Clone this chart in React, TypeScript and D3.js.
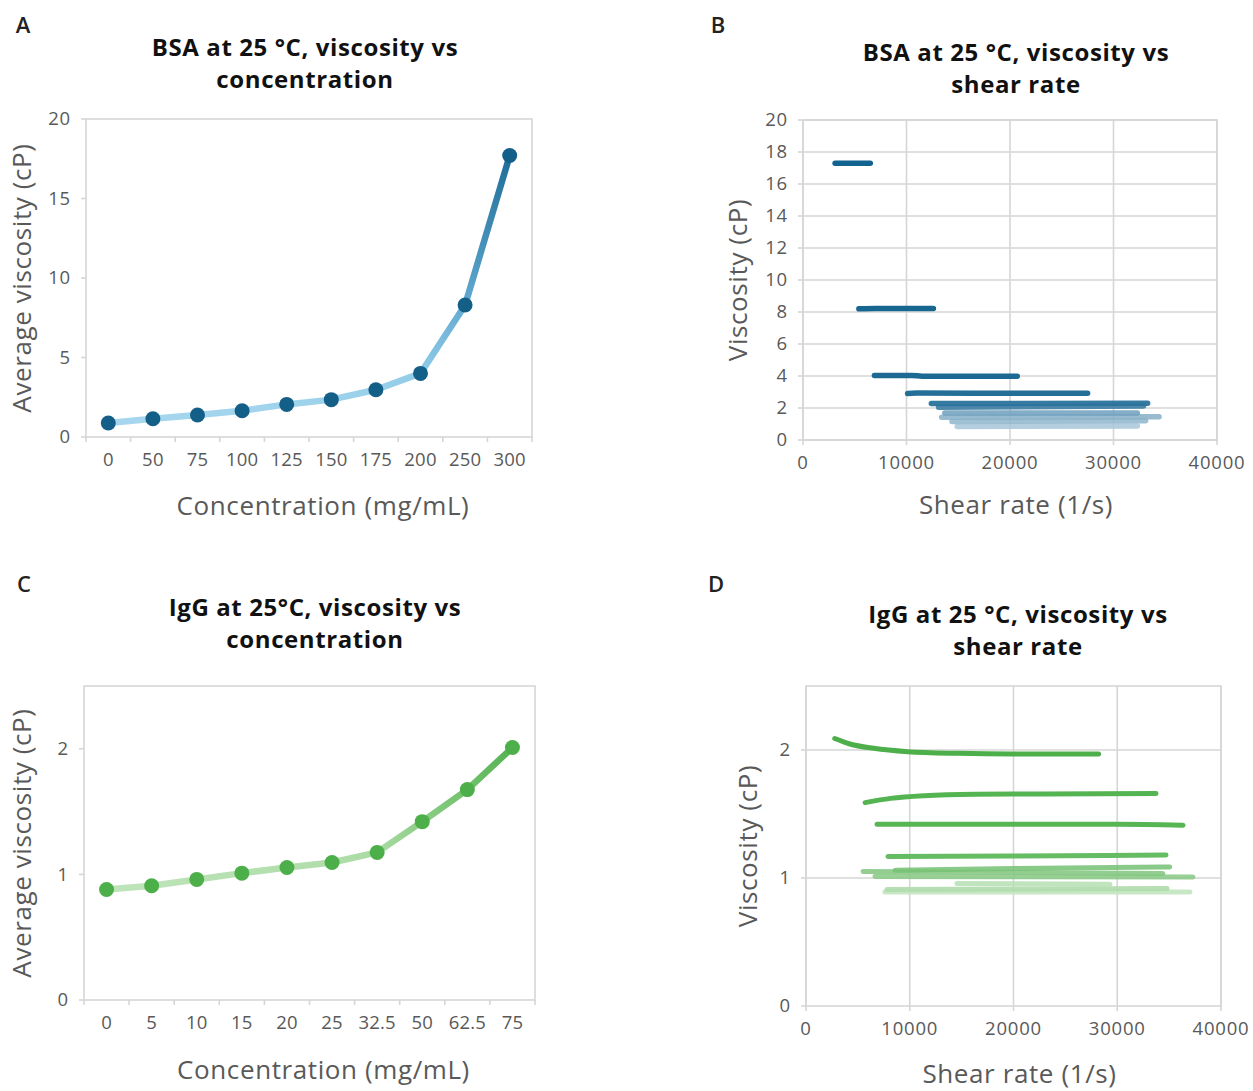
import React from "react";
import * as d3 from "d3";

// ---------- DATA ----------
const bsaConcentrations = ["0", "50", "75", "100", "125", "150", "175", "200", "250", "300"];
const bsaViscosity = [0.88, 1.15, 1.38, 1.65, 2.05, 2.35, 2.97, 4.0, 8.3, 17.7];

const iggConcentrations = ["0", "5", "10", "15", "20", "25", "32.5", "50", "62.5", "75"];
const iggViscosity = [0.88, 0.91, 0.96, 1.01, 1.055, 1.095, 1.175, 1.42, 1.675, 2.01];

// BSA shear curves: [shear rate, viscosity]
const bsaShear300: [number, number][] = [[3100, 17.3], [6500, 17.3]];
const bsaShear250: [number, number][] = [[5400, 8.2], [7000, 8.22], [12600, 8.22]];
const bsaShear200: [number, number][] = [[6900, 4.03], [10500, 4.03], [11500, 3.99], [20700, 3.99]];
const bsaShear175: [number, number][] = [[10100, 2.9], [11000, 2.93], [27500, 2.92]];
const bsaShear150: [number, number][] = [[12400, 2.28], [33300, 2.3]];
const bsaShear125: [number, number][] = [[13100, 2.05], [32900, 2.12]];
const bsaShear100: [number, number][] = [[13700, 1.68], [32300, 1.68]];
const bsaShear75: [number, number][] = [[13400, 1.42], [34400, 1.45]];
const bsaShear50: [number, number][] = [[14400, 1.15], [33100, 1.2]];
const bsaShear0: [number, number][] = [[14900, 0.84], [32300, 0.88]];

const bsaShearSeries = [bsaShear0, bsaShear50, bsaShear75, bsaShear100, bsaShear125, bsaShear150, bsaShear175, bsaShear200, bsaShear250, bsaShear300];
const bsaShearColors = ["#a7c6d9", "#8fb5cc", "#86afc8", "#6f9fbd", "#3c7ca3", "#2a739c", "#246f98", "#1c6993", "#176690", "#136390"];

// IgG shear curves
const iggShear75: [number, number][] = [[2770, 2.09], [4240, 2.047], [6520, 2.013], [9780, 1.987], [14670, 1.974], [19890, 1.969], [28200, 1.969]];
const iggShear62: [number, number][] = [[5700, 1.589], [8150, 1.622], [11410, 1.643], [16300, 1.654], [21190, 1.656], [33740, 1.661]];
const iggShear50: [number, number][] = [[6850, 1.419], [30000, 1.419], [36340, 1.413]];
const iggShear32: [number, number][] = [[7900, 1.168], [20000, 1.172], [34700, 1.18]];
const iggShear25: [number, number][] = [[8600, 1.06], [20000, 1.075], [35050, 1.086]];
const iggShear20: [number, number][] = [[5500, 1.05], [34400, 1.036]];
const iggShear15: [number, number][] = [[6650, 1.012], [37300, 1.008]];
const iggShear10: [number, number][] = [[14550, 0.958], [29300, 0.952]];
const iggShear5: [number, number][] = [[7800, 0.91], [34800, 0.918]];
const iggShear0: [number, number][] = [[7600, 0.89], [37000, 0.89]];

const iggShearSeries = [iggShear0, iggShear5, iggShear10, iggShear15, iggShear20, iggShear25, iggShear32, iggShear50, iggShear62, iggShear75];
const iggShearColors = ["#c2e4bf", "#afdcab", "#b5dfb1", "#86c883", "#80c57c", "#76c173", "#5db85a", "#57b554", "#55b452", "#4caf49"];

const bsaYTicks = [0, 5, 10, 15, 20];
const bsaShearYTicks = [0, 2, 4, 6, 8, 10, 12, 14, 16, 18, 20];
const iggYTicks = [0, 1, 2];
const shearXTicks = [0, 10000, 20000, 30000, 40000];

const FONT = "'Open Sans', Lato, sans-serif";
const TICK_COLOR = "#595959";
const FRAME = "#d6d6d6";
const TITLE_SIZE = 24;
const TITLE_LS = 0.6;
const TICK_SIZE = 18.5;
const TICK_LS = 0.8;
const AXIS_SIZE = 26;
const AXIS_LS = 0.6;

type Box = { left: number; right: number; top: number; bottom: number };

function CategoryPanel(props: {
  id: string;
  letter: string;
  letterPos: [number, number];
  title: string[];
  titleX: number;
  titleY: number;
  box: Box;
  categories: string[];
  values: number[];
  yMax: number;
  yTicks: number[];
  colorDomain: number[];
  colorRange: string[];
  markerColor: string;
  xTitleY: number;
  yTitleX: number;
}) {
  const { box } = props;
  const x = d3.scaleBand<string>().domain(props.categories).range([box.left, box.right]);
  const y = d3.scaleLinear().domain([0, props.yMax]).range([box.bottom, box.top]);
  const color = d3.scaleLinear<string>().domain(props.colorDomain).range(props.colorRange);
  const cx = (c: string) => (x(c) as number) + x.bandwidth() / 2;
  const pts = props.categories.map((c, i) => ({ x: cx(c), y: y(props.values[i]), v: props.values[i] }));
  const boundaries = props.categories.map((c) => x(c) as number).concat([box.right]);

  return (
    <g>
      <text x={props.letterPos[0]} y={props.letterPos[1]} fontFamily={FONT} fontSize={22} fontWeight={600} fill="#222" textAnchor="middle">
        {props.letter}
      </text>
      {props.title.map((t, i) => (
        <text key={i} x={props.titleX} y={props.titleY + i * 32} fontFamily={FONT} fontSize={TITLE_SIZE} letterSpacing={TITLE_LS} fontWeight={700} fill="#111" textAnchor="middle">
          {t}
        </text>
      ))}
      <rect x={box.left} y={box.top} width={box.right - box.left} height={box.bottom - box.top} fill="none" stroke={FRAME} strokeWidth={1.6} />
      {props.yTicks.map((t) => (
        <g key={t}>
          <line x1={box.left - 5} x2={box.left} y1={y(t)} y2={y(t)} stroke={FRAME} strokeWidth={1.6} />
          <text x={box.left - 15} y={y(t)} dy="0.35em" textAnchor="end" fontFamily={FONT} fontSize={TICK_SIZE} letterSpacing={TICK_LS} fill={TICK_COLOR}>
            {t}
          </text>
        </g>
      ))}
      {boundaries.map((b, i) => (
        <line key={i} x1={b} x2={b} y1={box.bottom} y2={box.bottom + 5} stroke={FRAME} strokeWidth={1.6} />
      ))}
      {props.categories.map((c) => (
        <text key={c} x={cx(c)} y={box.bottom + 23} dy="0.35em" textAnchor="middle" fontFamily={FONT} fontSize={TICK_SIZE} letterSpacing={0.2} fill={TICK_COLOR}>
          {c}
        </text>
      ))}
      <defs>
        {pts.slice(1).map((p, i) => (
          <linearGradient key={i} id={`${props.id}-g${i}`} gradientUnits="userSpaceOnUse" x1={pts[i].x} y1={pts[i].y} x2={p.x} y2={p.y}>
            <stop offset="0" stopColor={color(pts[i].v)} />
            <stop offset="1" stopColor={color(p.v)} />
          </linearGradient>
        ))}
      </defs>
      {pts.slice(1).map((p, i) => (
        <line key={i} x1={pts[i].x} y1={pts[i].y} x2={p.x} y2={p.y} stroke={`url(#${props.id}-g${i})`} strokeWidth={6.5} strokeLinecap="round" />
      ))}
      {pts.map((p, i) => (
        <circle key={i} cx={p.x} cy={p.y} r={7.5} fill={props.markerColor} />
      ))}
      <text x={(box.left + box.right) / 2 + 14} y={props.xTitleY} dy="0.35em" textAnchor="middle" fontFamily={FONT} fontSize={AXIS_SIZE} letterSpacing={AXIS_LS} fill={TICK_COLOR}>
        Concentration (mg/mL)
      </text>
      <text
        transform={`translate(${props.yTitleX},${(box.top + box.bottom) / 2}) rotate(-90)`}
        dy="0.35em"
        textAnchor="middle"
        fontFamily={FONT}
        fontSize={AXIS_SIZE}
        letterSpacing={AXIS_LS}
        fill={TICK_COLOR}
      >
        Average viscosity (cP)
      </text>
    </g>
  );
}

function ShearPanel(props: {
  letter: string;
  letterPos: [number, number];
  title: string[];
  titleX: number;
  titleY: number;
  box: Box;
  series: [number, number][][];
  colors: string[];
  opacity: number[];
  yMax: number;
  yTicks: number[];
  yGrid: number[];
  xTitleY: number;
  yTitleX: number;
  lineWidth: number;
}) {
  const { box } = props;
  const x = d3.scaleLinear().domain([0, 40000]).range([box.left, box.right]);
  const y = d3.scaleLinear().domain([0, props.yMax]).range([box.bottom, box.top]);
  const line = d3
    .line<[number, number]>()
    .x((d) => x(d[0]))
    .y((d) => y(d[1]))
    .curve(d3.curveMonotoneX);

  return (
    <g>
      <text x={props.letterPos[0]} y={props.letterPos[1]} fontFamily={FONT} fontSize={22} fontWeight={600} fill="#222" textAnchor="middle">
        {props.letter}
      </text>
      {props.title.map((t, i) => (
        <text key={i} x={props.titleX} y={props.titleY + i * 32} fontFamily={FONT} fontSize={TITLE_SIZE} letterSpacing={TITLE_LS} fontWeight={700} fill="#111" textAnchor="middle">
          {t}
        </text>
      ))}
      {props.yGrid.map((t) => (
        <line key={"g" + t} x1={box.left} x2={box.right} y1={y(t)} y2={y(t)} stroke={FRAME} strokeWidth={1.6} />
      ))}
      {shearXTicks.map((t) => (
        <line key={"v" + t} x1={x(t)} x2={x(t)} y1={box.top} y2={box.bottom + 5} stroke={FRAME} strokeWidth={1.6} />
      ))}
      <rect x={box.left} y={box.top} width={box.right - box.left} height={box.bottom - box.top} fill="none" stroke={FRAME} strokeWidth={1.6} />
      {props.yTicks.map((t) => (
        <g key={t}>
          <line x1={box.left - 5} x2={box.left} y1={y(t)} y2={y(t)} stroke={FRAME} strokeWidth={1.6} />
          <text x={box.left - 15} y={y(t)} dy="0.35em" textAnchor="end" fontFamily={FONT} fontSize={TICK_SIZE} letterSpacing={TICK_LS} fill={TICK_COLOR}>
            {t}
          </text>
        </g>
      ))}
      {shearXTicks.map((t) => (
        <text key={t} x={x(t)} y={box.bottom + 23} dy="0.35em" textAnchor="middle" fontFamily={FONT} fontSize={TICK_SIZE} letterSpacing={TICK_LS} fill={TICK_COLOR}>
          {t}
        </text>
      ))}
      {props.series.map((s, i) => (
        <path
          key={i}
          d={line(s) || ""}
          fill="none"
          stroke={props.colors[i]}
          strokeOpacity={props.opacity[i]}
          strokeWidth={props.lineWidth}
          strokeLinecap="round"
          strokeLinejoin="round"
        />
      ))}
      <text x={(box.left + box.right) / 2 + 6} y={props.xTitleY} dy="0.35em" textAnchor="middle" fontFamily={FONT} fontSize={AXIS_SIZE} letterSpacing={AXIS_LS} fill={TICK_COLOR}>
        Shear rate (1/s)
      </text>
      <text
        transform={`translate(${props.yTitleX},${(box.top + box.bottom) / 2}) rotate(-90)`}
        dy="0.35em"
        textAnchor="middle"
        fontFamily={FONT}
        fontSize={AXIS_SIZE}
        letterSpacing={AXIS_LS}
        fill={TICK_COLOR}
      >
        Viscosity (cP)
      </text>
    </g>
  );
}

export default function App() {
  return (
    <svg width={1253} height={1091} style={{ position: "absolute", left: 0, top: 0, background: "#fff" }}>
      <rect x={0} y={0} width={1253} height={1091} fill="#fff" />
      <CategoryPanel
        id="A"
        letter="A"
        letterPos={[23, 33]}
        title={["BSA at 25 °C, viscosity vs", "concentration"]}
        titleX={305}
        titleY={56}
        box={{ left: 86, right: 532, top: 119, bottom: 437 }}
        categories={bsaConcentrations}
        values={bsaViscosity}
        yMax={20}
        yTicks={bsaYTicks}
        colorDomain={[0, 4, 8.3, 17.7]}
        colorRange={["#acdaf0", "#93cce8", "#62aad1", "#1f6d97"]}
        markerColor="#145f88"
        xTitleY={506}
        yTitleX={22}
      />
      <ShearPanel
        letter="B"
        letterPos={[718, 33]}
        title={["BSA at 25 °C, viscosity vs", "shear rate"]}
        titleX={1016}
        titleY={61}
        box={{ left: 803, right: 1217, top: 120, bottom: 440 }}
        series={bsaShearSeries}
        colors={bsaShearColors}
        opacity={[0.85, 0.85, 0.85, 0.85, 0.9, 0.95, 1, 1, 1, 1]}
        yMax={20}
        yTicks={bsaShearYTicks}
        yGrid={bsaShearYTicks}
        xTitleY={505}
        yTitleX={738}
        lineWidth={5.5}
      />
      <CategoryPanel
        id="C"
        letter="C"
        letterPos={[24, 592]}
        title={["IgG at 25°C, viscosity vs", "concentration"]}
        titleX={315}
        titleY={616}
        box={{ left: 84, right: 535, top: 686, bottom: 1000 }}
        categories={iggConcentrations}
        values={iggViscosity}
        yMax={2.5}
        yTicks={iggYTicks}
        colorDomain={[0.88, 1.2, 1.42, 1.68, 2.01]}
        colorRange={["#bfe4ba", "#a8daa2", "#8ccd86", "#70c16c", "#55b252"]}
        markerColor="#4daf4a"
        xTitleY={1070}
        yTitleX={22}
      />
      <ShearPanel
        letter="D"
        letterPos={[716, 592]}
        title={["IgG at 25 °C, viscosity vs", "shear rate"]}
        titleX={1018}
        titleY={623}
        box={{ left: 806, right: 1221, top: 686, bottom: 1006 }}
        series={iggShearSeries}
        colors={iggShearColors}
        opacity={[0.9, 0.9, 0.85, 0.85, 0.85, 0.85, 0.95, 1, 1, 1]}
        yMax={2.5}
        yTicks={iggYTicks}
        yGrid={[1, 2]}
        xTitleY={1074}
        yTitleX={748}
        lineWidth={5}
      />
    </svg>
  );
}
